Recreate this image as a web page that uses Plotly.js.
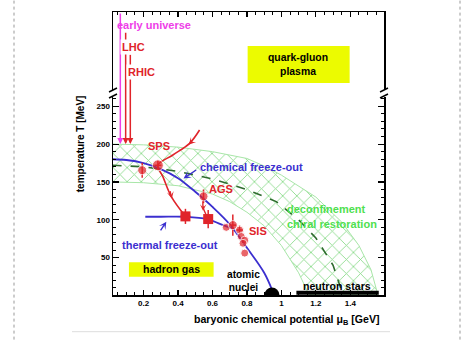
<!DOCTYPE html>
<html>
<head>
<meta charset="utf-8">
<script src="https://cdn.plot.ly/plotly-3.0.1.min.js"></script>
<style>html,body{margin:0;padding:0;background:#fff;}#chart{width:474px;height:340px;}</style>
</head>
<body>
<div id="chart"></div>
<script>
// ---- data (mu_B in GeV, T in MeV) ----
const chemMu = [0.02, 0.1, 0.2, 0.3, 0.4, 0.5, 0.6, 0.7, 0.8, 0.9, 0.95];
const chemT  = [180, 179, 175, 167, 155, 137, 117, 94, 63, 30, 5];
const thermMu = [0.21, 0.3, 0.44, 0.57, 0.65, 0.72];
const thermT  = [104, 104, 104, 101, 94, 88];
const dashMu = [0.02, 0.2, 0.4, 0.6, 0.8, 0.97, 1.1, 1.2, 1.3, 1.355];
const dashT  = [172, 170, 164, 154, 140, 124, 100, 76, 40, 2];
const bandUpMu = [0.02, 0.2, 0.4, 0.6, 0.8, 0.9, 1.0, 1.1, 1.2, 1.35, 1.45, 1.52, 1.56];
const bandUpT  = [200, 199, 196, 190, 181, 171, 159, 145, 130, 97, 66, 34, 1];
const bandLoMu = [0.02, 0.2, 0.4, 0.6, 0.7, 0.8, 0.9, 1.0, 1.1, 1.16];
const bandLoT  = [150, 149, 145, 134, 124, 110, 92, 66, 30, 1];
const circMu   = [0.192, 0.283, 0.548, 0.68, 0.718, 0.757, 0.767, 0.787, 0.777, 0.787];
const circT    = [165.5, 172, 131, 90, 93, 86.5, 78, 73, 69, 56];
const circErrT = [10, 6, 9, 0, 14, 6, 0, 0, 0, 0];
const circErrMu= [0, 0.02, 0, 0, 0.02, 0.02, 0, 0, 0, 0];
const circSize = [9, 11, 9, 8, 9, 8, 8, 8, 8, 8];
const sqMu    = [0.443, 0.575];
const sqT     = [104.5, 101];
const sqErrT  = [10, 12];
const sqErrMu = [0.03, 0.02];
const spsPathMu = [0.525, 0.467, 0.37, 0.283, 0.312, 0.361, 0.443];
const spsPathT  = [218.6, 201, 185.6, 172, 157, 130.5, 104.5];
const agsPathMu = [0.548, 0.545, 0.56, 0.573];
const agsPathT  = [131, 117, 108, 102];
const beamLabels = ["early universe", "LHC", "RHIC"];
const beamMu  = [0.065, 0.096, 0.123];
const beamTop = [374.5, 349, 320];
const beamEnd = [200, 200, 200];
const nucleiMu = [0.945], nucleiT = [0.66];
const nstarMu = [1.087, 1.565], nstarT = [3.6, 3.6];

const RED = '#e0242a', BLUE = '#3b2fcf', MAG = '#ee3ee8', GRN = '#4fe04f';
const FONT = 'Liberation Sans, Arial, sans-serif';

const traces = [];
// crosshatched band
traces.push({
  x: bandUpMu.concat(bandLoMu.slice().reverse()),
  y: bandUpT.concat(bandLoT.slice().reverse()),
  mode: 'lines', fill: 'toself', fillcolor: 'rgba(0,0,0,0)',
  fillpattern: {shape: 'x', fgcolor: '#86d886', size: 10, solidity: 0.16},
  line: {color: '#a8e6a8', width: 1}, hoverinfo: 'skip'
});
traces.push({x: dashMu, y: dashT, mode: 'lines', line: {color: '#2e6b2e', width: 1.6, dash: 'dash'}});
traces.push({x: chemMu, y: chemT, mode: 'lines', line: {color: BLUE, width: 1.8, shape: 'spline'}});
traces.push({x: thermMu, y: thermT, mode: 'lines', line: {color: BLUE, width: 1.8, shape: 'spline'}});
traces.push({x: spsPathMu, y: spsPathT, mode: 'lines', line: {color: RED, width: 1.6, shape: 'spline'}});
traces.push({x: agsPathMu, y: agsPathT, mode: 'lines', line: {color: RED, width: 1.4, shape: 'spline'}});
traces.push({x: circMu, y: circT, mode: 'markers',
  marker: {color: RED, size: circSize, symbol: 'circle'},
  error_y: {type: 'data', array: circErrT, color: RED, thickness: 1.5, width: 0},
  error_x: {type: 'data', array: circErrMu, color: RED, thickness: 1.5, width: 0}});
traces.push({x: sqMu, y: sqT, mode: 'markers',
  marker: {color: RED, size: 10, symbol: 'square'},
  error_y: {type: 'data', array: sqErrT, color: RED, thickness: 1.5, width: 0},
  error_x: {type: 'data', array: sqErrMu, color: RED, thickness: 1.5, width: 0}});
traces.push({x: nucleiMu, y: nucleiT, mode: 'markers', marker: {color: '#000', size: 15}});
traces.push({x: nstarMu, y: nstarT, mode: 'lines', line: {color: '#000', width: 4}});

const ann = [];
const txt = (text, x, y, color, size) => ({
  text: text, x: x, y: y, xref: 'x', yref: 'y', showarrow: false, xanchor: 'center', yanchor: 'middle',
  font: {family: FONT, size: size || 10.6, color: color, weight: 'bold'}
});
// beam arrows from top
const beamColors = [MAG, RED, RED];
beamMu.forEach((m, i) => ann.push({x: m, y: beamEnd[i], ax: m, ay: beamTop[i], xref: 'x', yref: 'y', axref: 'x', ayref: 'y',
  showarrow: true, arrowhead: 2, arrowsize: 0.8, arrowwidth: 1.5, arrowcolor: beamColors[i], text: ''}));
ann.push(txt(beamLabels[0], 0.258, 357.3, MAG, 11));
const lhc = txt(beamLabels[1], 0.142, 328.3, RED, 11); lhc.bgcolor = '#fff'; lhc.borderpad = 1; ann.push(lhc);
const rhic = txt(beamLabels[2], 0.187, 295.6, RED, 11); rhic.bgcolor = '#fff'; rhic.borderpad = 1; ann.push(rhic);
ann.push(txt('quark-gluon<br>plasma', 1.094, 305, '#000', 10.4));
ann.push(txt('SPS', 0.288, 197.9, RED, 11));
ann.push(txt('chemical freeze-out', 0.825, 170.1, BLUE, 11));
ann.push(txt('AGS', 0.651, 140.3, RED, 11));
ann.push(txt('deconfinement', 1.26, 114.3, GRN, 11));
ann.push(txt('chiral restoration', 1.293, 94.5, GRN, 11));
ann.push(txt('SIS', 0.864, 85.6, RED, 11));
ann.push(txt('thermal freeze-out', 0.355, 66.7, BLUE, 11));
ann.push(txt('hadron gas', 0.364, 34.6, '#000', 10.6));
ann.push(txt('atomic<br>nuclei', 0.781, 19.8, '#000', 10.2));
ann.push(txt('neutron stars', 1.324, 12.9, '#000', 10.6));
// pointer arrows
const arr = (x, y, ax, ay, color, w) => ({x: x, y: y, ax: ax, ay: ay, xref: 'x', yref: 'y', axref: 'x', ayref: 'y',
  showarrow: true, arrowhead: 3, arrowsize: 0.9, arrowwidth: w || 1.4, arrowcolor: color, text: ''});
ann.push(arr(0.432, 154.6, 0.514, 167.1, BLUE));
ann.push(arr(0.332, 97.5, 0.293, 83.9, BLUE));
ann.push(arr(0.462, 199.3, 0.49, 206, RED, 1.3));
ann.push(arr(0.364, 128, 0.352, 140, RED, 1.3));
ann.push(arr(0.545, 112, 0.546, 120, RED, 1.2));
// axis titles
ann.push({text: 'baryonic chemical potential μ<sub>B</sub> [GeV]', xref: 'paper', yref: 'paper', x: 0.642, y: -0.088,
  xanchor: 'center', yanchor: 'middle',
  showarrow: false, font: {family: FONT, size: 10.6, color: '#000', weight: 'bold'}});
ann.push({text: 'temperature T [MeV]', xref: 'paper', yref: 'paper', x: -0.122, y: 0.536, textangle: -90,
  xanchor: 'center', yanchor: 'middle',
  showarrow: false, font: {family: FONT, size: 10, color: '#000', weight: 'bold'}});

// decorative shapes: label boxes, axis break, page borders
const shapes = [
  {type: 'rect', xref: 'x', yref: 'y', x0: 0.804, x1: 1.396, y0: 280.7, y1: 329.6, fillcolor: '#ecfb00', line: {width: 0}, layer: 'below'},
  {type: 'rect', xref: 'x', yref: 'y', x0: 0.115, x1: 0.6065, y0: 24.8, y1: 43.9, fillcolor: '#ecfb00', line: {width: 0}, layer: 'below'}
];
[0, 1].forEach(px => {
  const dx = 4 / 271;
  shapes.push({type: 'rect', xref: 'paper', yref: 'paper', x0: px - 0.012, x1: px + 0.012, y0: (295 - 97) / 283, y1: (295 - 90) / 283,
    fillcolor: '#fff', line: {width: 0}, layer: 'above'});
  shapes.push({type: 'line', xref: 'paper', yref: 'paper', x0: px - dx, x1: px + dx, y0: (295 - 92) / 283, y1: (295 - 88) / 283, line: {color: '#000', width: 1.5}});
  shapes.push({type: 'line', xref: 'paper', yref: 'paper', x0: px - dx, x1: px + dx, y0: (295 - 98) / 283, y1: (295 - 94) / 283, line: {color: '#000', width: 1.5}});
});
shapes.push({type: 'line', xref: 'paper', yref: 'paper', x0: (14 - 113) / 271, x1: (14 - 113) / 271, y0: -0.2, y1: 1.1, line: {color: '#999', width: 1, dash: 'dot'}});
shapes.push({type: 'line', xref: 'paper', yref: 'paper', x0: (460 - 113) / 271, x1: (460 - 113) / 271, y0: -0.2, y1: 1.1, line: {color: '#999', width: 1, dash: 'dot'}});
shapes.push({type: 'line', xref: 'paper', yref: 'paper', x0: (72 - 113) / 271, x1: (390 - 113) / 271, y0: (295 - 331.7) / 283, y1: (295 - 331.7) / 283, line: {color: '#ddd', width: 1}});

const xTickVals = [0.2, 0.4, 0.6, 0.8, 1.0, 1.2, 1.4];
const xTickText = ['0.2', '0.4', '0.6', '0.8', '1', '1.2', '1.4'];
const yTickVals = [50, 100, 150, 200, 250];
const yMinorVals = [10,20,30,40,60,70,80,90,110,120,130,140,160,170,180,190,210,220,230,240,260];

const layout = {
  width: 474, height: 340,
  margin: {l: 113, r: 90, t: 12, b: 45},
  paper_bgcolor: '#fff', plot_bgcolor: '#fff',
  showlegend: false, hovermode: false,
  font: {family: FONT, size: 8, color: '#000'},
  xaxis: {range: [0.0225, 1.5955], showgrid: false, zeroline: false, showline: true, linecolor: '#000', linewidth: 1.5, mirror: 'ticks',
    tickmode: 'array', tickvals: xTickVals, ticktext: xTickText, ticks: 'inside', ticklen: 5, tickwidth: 1.2, tickcolor: '#000',
    tickfont: {family: FONT, size: 8, color: '#000', weight: 'bold'},
    minor: {dtick: 0.05, tick0: 0, ticks: 'inside', ticklen: 3, tickwidth: 1, tickcolor: '#000'}},
  yaxis: {range: [0.66, 374.5], showgrid: false, zeroline: false, showline: true, linecolor: '#000', linewidth: 1.5, mirror: 'ticks',
    tickmode: 'array', tickvals: yTickVals, ticks: 'inside', ticklen: 6, tickwidth: 1.2, tickcolor: '#000',
    tickfont: {family: FONT, size: 8, color: '#000', weight: 'bold'},
    minor: {tickmode: 'array', tickvals: yMinorVals, ticks: 'inside', ticklen: 3, tickwidth: 1, tickcolor: '#000'}},
  annotations: ann,
  shapes: shapes
};
Plotly.newPlot('chart', traces, layout, {displayModeBar: false, staticPlot: true});
</script>
</body>
</html>
